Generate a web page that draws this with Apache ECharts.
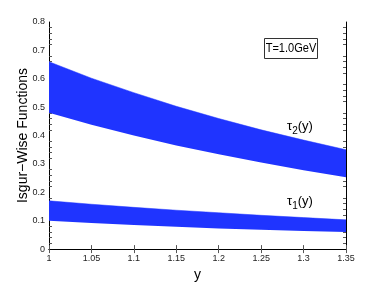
<!DOCTYPE html>
<html><head><meta charset="utf-8">
<script src="https://cdn.jsdelivr.net/npm/echarts@6/dist/echarts.min.js"></script>
<style>html,body{margin:0;padding:0;background:#fff}#c{width:382px;height:287px}</style>
</head><body><div id="c"></div>
<script>
const yValues = ['1', '1.05', '1.1', '1.15', '1.2', '1.25', '1.3', '1.35'];
const tau2Upper = [0.660, 0.602, 0.551, 0.503, 0.460, 0.420, 0.384, 0.350];
const tau2Lower = [0.480, 0.438, 0.400, 0.365, 0.334, 0.305, 0.278, 0.253];
const tau1Upper = [0.170, 0.158, 0.147, 0.137, 0.128, 0.119, 0.111, 0.103];
const tau1Lower = [0.100, 0.092, 0.085, 0.079, 0.073, 0.068, 0.064, 0.060];
const yTicks = ['0','0.1','0.2','0.3','0.4','0.5','0.6','0.7','0.8'];

const BLUE = '#1f34ff';
const font = 'Liberation Sans, Arial, sans-serif';

function band(lower, upper, stack) {
  return [
    { type: 'line', stack: stack, symbol: 'none', lineStyle: { width: 0 },
      data: lower.slice() },
    { type: 'line', stack: stack, symbol: 'none', lineStyle: { width: 0.5, color: BLUE },
      areaStyle: { color: BLUE, opacity: 1 },
      data: upper.map((u, i) => u - lower[i]) }
  ];
}

const chart = echarts.init(document.getElementById('c'));
const axisLine = { show: true, lineStyle: { color: '#000', width: 1 } };
const tick = { inside: true, length: 4, lineStyle: { color: '#555' } };
chart.setOption({
  animation: false,
  grid: { left: 49, right: 36, top: 22, bottom: 33 },
  xAxis: [
    { type: 'category', data: yValues, boundaryGap: false, position: 'bottom',
      axisLine: axisLine, axisTick: tick, splitLine: { show: false },
      axisLabel: { fontSize: 9, color: '#222', fontFamily: font, margin: 5 },
      name: 'y', nameLocation: 'middle', nameGap: 16,
      nameTextStyle: { fontSize: 14, color: '#000', fontFamily: font } },
    { type: 'category', data: yValues, boundaryGap: false, position: 'top',
      axisLine: axisLine, axisTick: tick, splitLine: { show: false },
      axisLabel: { show: false } }
  ],
  yAxis: [
    { type: 'value', min: 0, max: 0.8, interval: 0.1, position: 'left',
      axisLine: axisLine, axisTick: tick,
      minorTick: { show: true, splitNumber: 5, length: 3, lineStyle: { color: '#555' } },
      splitLine: { show: false },
      axisLabel: { fontSize: 9, color: '#222', fontFamily: font, margin: 4,
        formatter: v => yTicks[Math.round(v / 0.1)] },
      name: 'Isgur\u2212Wise Functions', nameLocation: 'middle', nameGap: 19,
      nameMoveOverlap: false,
      nameTextStyle: { fontSize: 14, color: '#000', fontFamily: font } },
    { type: 'value', min: 0, max: 0.8, interval: 0.1, position: 'right',
      axisLine: axisLine, axisTick: tick,
      minorTick: { show: true, splitNumber: 5, length: 3, lineStyle: { color: '#555' } },
      splitLine: { show: false }, axisLabel: { show: false } }
  ],
  series: [...band(tau2Lower, tau2Upper, 't2'), ...band(tau1Lower, tau1Upper, 't1')],
  graphic: [
    { type: 'rect', shape: { x: 264.5, y: 38.5, width: 53, height: 20 },
      style: { fill: '#fff', stroke: '#333', lineWidth: 1 } },
    { type: 'text', x: 291, y: 48.5, scaleX: 0.85,
      style: { text: 'T=1.0GeV', font: '13px ' + font, fill: '#000', align: 'center', verticalAlign: 'middle' } },
    { type: 'text', x: 287, y: 116,
      style: { text: '{t|\u03c4}{s|2}{t|(y)}', fill: '#000',
        rich: { t: { font: '13px ' + font, fill: '#000' },
                s: { font: '10px ' + font, fill: '#000', padding: [10,0,0,0] } } } },
    { type: 'text', x: 287, y: 191,
      style: { text: '{t|\u03c4}{s|1}{t|(y)}', fill: '#000',
        rich: { t: { font: '13px ' + font, fill: '#000' },
                s: { font: '10px ' + font, fill: '#000', padding: [10,0,0,0] } } } }
  ]
});
</script></body></html>
